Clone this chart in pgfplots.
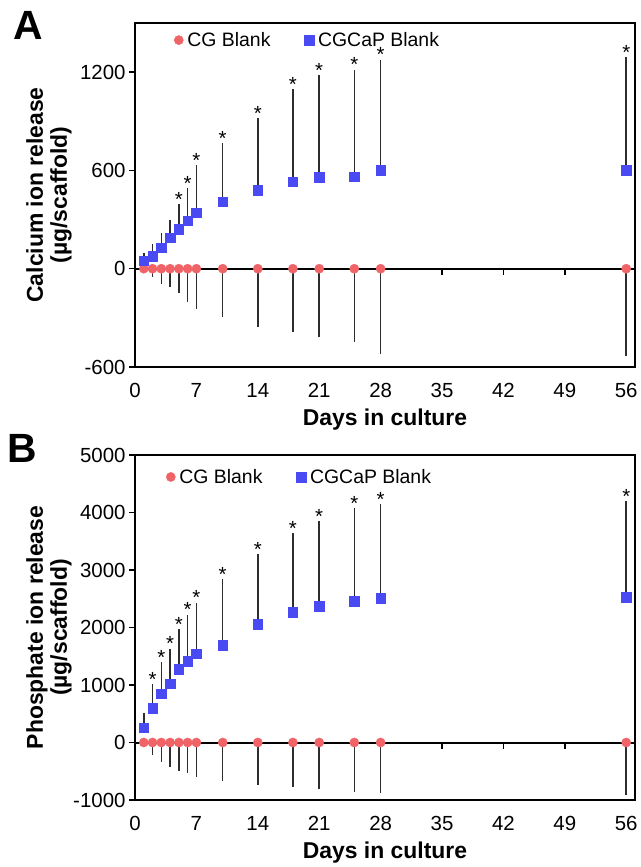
\documentclass[border=0pt]{standalone}
\usepackage{fontspec}
\setmainfont{Liberation Sans}
\usepackage{pgfplots}
\usepackage{pgfplotstable}
\pgfplotsset{compat=1.18}

\definecolor{cgred}{RGB}{240,100,104}
\definecolor{capblue}{RGB}{74,74,242}
\definecolor{barcol}{RGB}{45,45,45}

% Panel A: calcium
\pgfplotstableread{
day mean err
1  0 15
2  0 51
3  0 91
4  0 111
5  0 148
6  0 205
7  0 245
10 0 296
14 0 355
18 0 388
21 0 418
25 0 447
28 0 520
56 0 530
}\caCG
\pgfplotstableread{
day mean err
1  50  46
2  75  75
3  128 89
4  189 109
5  243 153
6  294 197
7  343 290
10 410 359
14 481 437
18 530 564
21 558 623
25 562 654
28 603 674
56 603 690
}\caCaP
\pgfplotstableread{
day top
5  396
6  491
7  633
10 769
14 918
18 1094
21 1181
25 1216
28 1277
56 1293
}\caStar

% Panel B: phosphate
\pgfplotstableread{
day mean err
1  0 40
2  0 226
3  0 343
4  0 418
5  0 488
6  0 534
7  0 604
10 0 662
14 0 732
18 0 766
21 0 807
25 0 854
28 0 882
56 0 906
}\phCG
\pgfplotstableread{
day mean err
1  256  255
2  598  424
3  848  551
4  1022 610
5  1272 696
6  1417 808
7  1545 889
10 1690 1150
14 2056 1219
18 2265 1381
21 2369 1486
25 2462 1609
28 2514 1632
56 2531 1673
}\phCaP
\pgfplotstableread{
day top
2  1022
3  1399
4  1632
5  1968
6  2225
7  2434
10 2840
14 3275
18 3646
21 3855
25 4071
28 4146
56 4204
}\phStar

\pgfplotsset{
  releaseaxis/.style={
    scale only axis,
    width=500bp,
    xmin=0, xmax=57,
    xtick={0,7,...,56},
    axis line style={line width=2bp, black},
    xtick style={draw=none},
    ytick style={line width=1.5bp, black},
    major tick length=6bp,
    tick align=outside,
    ytick pos=left,
    xtick pos=bottom,
    /pgf/number format/assume math mode=true,
    /pgf/number format/1000 sep={},
    tick label style={font=\fontsize{20.5}{22}\selectfont},
    xticklabel style={yshift=-7bp},
    xlabel={Days in culture},
    xlabel style={font=\bfseries\fontsize{23}{24}\selectfont, at={(axis description cs:0.5,0)}, anchor=center, yshift=-53bp},
    ylabel style={font=\bfseries\fontsize{23}{24}\selectfont, align=center, at={(axis description cs:-0.172,0.5)}, anchor=center, rotate=0},
    legend style={anchor=north west, draw=none, fill=none,
      font=\fontsize{19.5}{20}\selectfont,
      /tikz/every even column/.append style={column sep=32bp},
      /tikz/every odd column/.append style={column sep=2bp}},
    legend columns=2,
    legend cell align=left,
    clip=false,
  },
  cgplot/.style={only marks, mark=*, mark size=4.6bp, color=cgred,
    mark options={draw=cgred, fill=cgred},
    error bars/.cd, y dir=minus, y explicit, error mark=none,
    error bar style={line width=1.5bp, barcol}},
  capplot/.style={only marks, mark=square*, mark size=4.8bp, color=capblue,
    mark options={draw=capblue, fill=capblue},
    error bars/.cd, y dir=plus, y explicit, error mark=none,
    error bar style={line width=1.5bp, barcol}},
  starplot/.style={draw=none, mark=none, forget plot,
    nodes near coords={*},
    every node near coord/.append style={font=\fontsize{20.5}{20}\selectfont, text=black, anchor=south, inner sep=0pt, yshift=-2.5bp}},
}

\begin{document}
\begin{tikzpicture}
\path (0bp,0bp) rectangle (640bp,867bp);

\begin{axis}[releaseaxis, at={(135bp,500bp)}, anchor=south west, height=344bp,
  ymin=-600, ymax=1500, ytick={-600,0,600,1200},
  legend style={at={(0.072,0.985)}},
  ylabel={Calcium ion release\\(µg/scaffold)}]
\draw[line width=2bp] (axis cs:0,0) -- (axis cs:57,0);
\pgfplotsinvokeforeach{7,14,21,28,35,42,49,56}{
  \draw[line width=1.5bp] (axis cs:#1,0) -- ([yshift=-6bp]axis cs:#1,0);
}
\addplot[cgplot] table[x=day, y=mean, y error=err] {\caCG};
\addplot[capplot] table[x=day, y=mean, y error=err] {\caCaP};
\addplot[starplot] table[x=day, y=top] {\caStar};
\legend{CG Blank, CGCaP Blank}
\end{axis}

\begin{axis}[releaseaxis, at={(135bp,67bp)}, anchor=south west, height=345bp,
  ymin=-1000, ymax=5000, ytick={-1000,0,...,5000},
  legend style={at={(0.056,0.971)}},
  ylabel={Phosphate ion release\\(µg/scaffold)}]
\draw[line width=2bp] (axis cs:0,0) -- (axis cs:57,0);
\pgfplotsinvokeforeach{7,14,21,28,35,42,49,56}{
  \draw[line width=1.5bp] (axis cs:#1,0) -- ([yshift=-6bp]axis cs:#1,0);
}
\addplot[cgplot] table[x=day, y=mean, y error=err] {\phCG};
\addplot[capplot] table[x=day, y=mean, y error=err] {\phCaP};
\addplot[starplot] table[x=day, y=top] {\phStar};
\legend{CG Blank, CGCaP Blank}
\end{axis}

\node[font=\bfseries\fontsize{41}{41}\selectfont] at (28bp,842bp) {A};
\node[font=\bfseries\fontsize{41}{41}\selectfont] at (22bp,419bp) {B};
\end{tikzpicture}
\end{document}
